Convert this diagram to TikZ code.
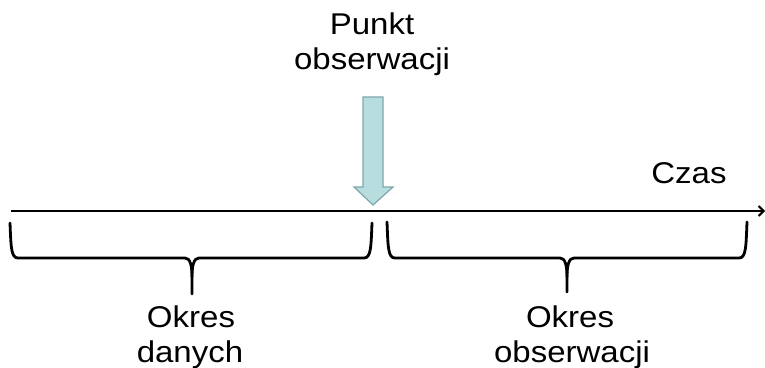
\documentclass[tikz,border=0pt]{standalone}
\usepackage{fontspec}
\setmainfont{Liberation Sans}[FakeStretch=1.1]
\usetikzlibrary{arrows.meta}
\definecolor{arrowfill}{RGB}{183,221,223}
\definecolor{arrowedge}{RGB}{128,166,170}
\tikzset{
  lbl/.style={anchor=base, inner sep=0pt, font=\fontsize{30}{35}\selectfont},
  axisline/.style={line width=2.4pt, -{Straight Barb[length=5pt,width=10pt,line width=2pt]}},
  bracket/.style={line width=2.8pt, line cap=round, line join=round},
  obsarrow/.style={fill=arrowfill, draw=arrowedge, line width=1.2pt}
}
\begin{document}
\begin{tikzpicture}[x=1pt,y=1pt]
\useasboundingbox (0,0) rectangle (765,367);
% axis
\coordinate (axS) at (11,156);
\coordinate (axE) at (765,156);
\draw[axisline] (axS) -- (axE);
% observation arrow
\draw[obsarrow] (363,270) -- (383,270) -- (383,180) -- (393,180) -- (373,162) -- (354,180) -- (363,180) -- cycle;
% left bracket
\draw[bracket] (10,144) .. controls (11,120) and (11,109) .. (18,109) -- (185,109)
  .. controls (190,109) and (192,102) .. (192,90) -- (192,73);
\draw[bracket] (192,90) .. controls (192,102) and (194,109) .. (199,109) -- (364,109)
  .. controls (371,109) and (371,120) .. (372,144);
% right bracket
\draw[bracket] (387,145) .. controls (388,120) and (388,109) .. (395,109) -- (560,109)
  .. controls (565,109) and (567,102) .. (567,90) -- (567,75);
\draw[bracket] (567,90) .. controls (567,102) and (569,109) .. (574,109) -- (739,109)
  .. controls (746,109) and (746,120) .. (747,145);
% labels
\node[lbl] (punkt) at (372,332) {Punkt};
\node[lbl] (punkt2) at (372,297) {obserwacji};
\node[lbl] (czas) at (689,183) {Czas};
\node[lbl] (okres1) at (191,40) {Okres};
\node[lbl] (okres1b) at (190,5) {danych};
\node[lbl] (okres2) at (570,40) {Okres};
\node[lbl] (okres2b) at (572,5) {obserwacji};
\end{tikzpicture}
\end{document}
